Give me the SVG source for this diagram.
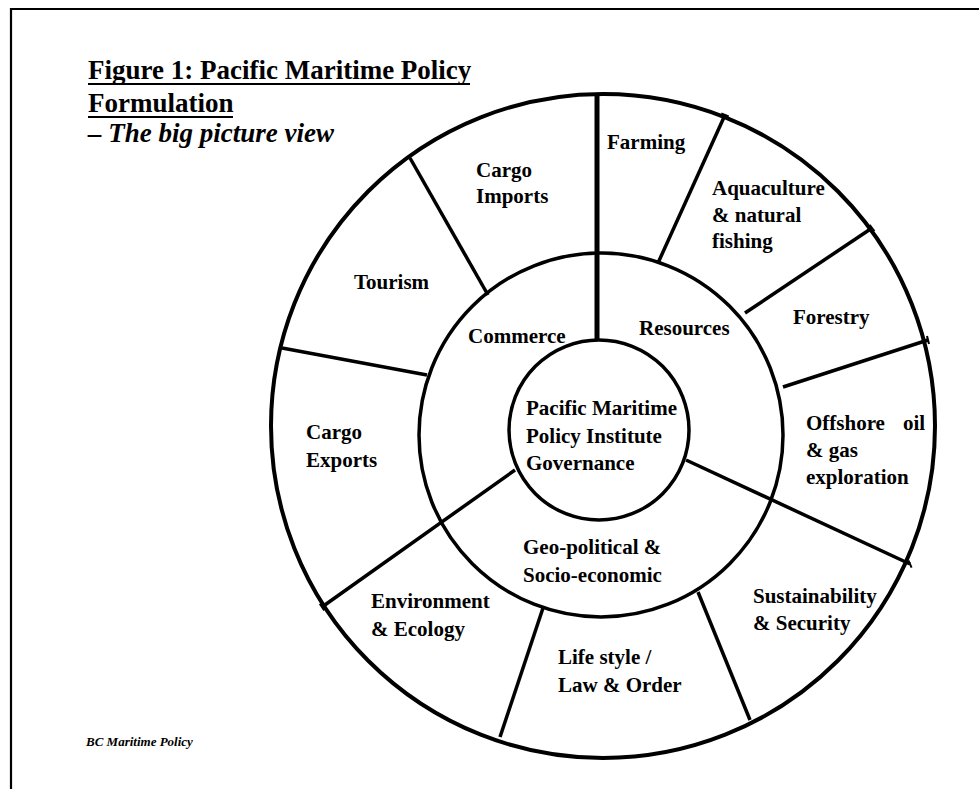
<svg xmlns="http://www.w3.org/2000/svg" width="979" height="789" viewBox="0 0 979 789">
  <style>
    .ring { fill: none; stroke: #000; stroke-width: 3.5; }
    .outer { stroke-width: 4; }
    .div { stroke: #000; stroke-width: 3.5; stroke-linecap: butt; }
    .axis { stroke-width: 5; }
    .tick { stroke: #000; stroke-width: 2; }
    .lbl { font-family: "Liberation Serif", "Times New Roman", serif; font-weight: bold; font-size: 21px; fill: #000; }
    .title { font-family: "Liberation Serif", "Times New Roman", serif; font-weight: bold; font-size: 27px; fill: #000; }
    .sub { font-style: italic; }
    .foot { font-family: "Liberation Serif", "Times New Roman", serif; font-weight: bold; font-style: italic; font-size: 13px; fill: #000; }
  </style>

  <rect width="979" height="789" fill="#fff"/>

  <!-- page frame (top and left edges) -->
  <g id="frame">
    <line x1="10" y1="9" x2="979" y2="9" stroke="#000" stroke-width="2.2"/>
    <line x1="11" y1="8" x2="11" y2="789" stroke="#000" stroke-width="2.2"/>
  </g>

  <!-- heading -->
  <g id="heading">
    <text class="title" x="88" y="79">Figure 1: Pacific Maritime Policy</text>
    <line x1="88" y1="84" x2="470" y2="84" stroke="#000" stroke-width="2"/>
    <text class="title" x="88" y="112">Formulation</text>
    <line x1="88" y1="117" x2="233" y2="117" stroke="#000" stroke-width="2"/>
    <text class="title sub" x="88" y="142">– The big picture view</text>
  </g>

  <!-- concentric rings -->
  <g id="rings">
    <circle class="ring outer" cx="603" cy="426" r="332"/>
    <circle class="ring" cx="601" cy="435" r="182"/>
    <circle class="ring" cx="599" cy="430" r="90"/>
  </g>

  <!-- sector dividers -->
  <g id="connectors">
    <line class="div axis" x1="597" y1="94" x2="597" y2="340"/>
    <line class="div" x1="410" y1="158" x2="488" y2="295"/>
    <line class="div" x1="282" y1="348" x2="427" y2="375"/>
    <line class="div" x1="725" y1="115" x2="658" y2="263"/>
    <line class="div" x1="872" y1="228" x2="745" y2="313"/>
    <line class="div" x1="928" y1="340" x2="783" y2="387"/>
    <line class="div" x1="686" y1="460" x2="910" y2="564"/>
    <line class="div" x1="698" y1="592" x2="750" y2="720"/>
    <line class="div" x1="543" y1="608" x2="500" y2="737"/>
    <line class="div" x1="515" y1="470" x2="322" y2="607"/>
    <line class="tick" x1="721.3" y1="113.5" x2="728.7" y2="116.5"/>
    <line class="tick" x1="869.6" y1="224.8" x2="874.4" y2="231.2"/>
    <line class="tick" x1="927" y1="336" x2="929" y2="344"/>
    <line class="tick" x1="319.8" y1="603.6" x2="324.2" y2="610.4"/>
    <line class="tick" x1="908.4" y1="560.4" x2="911.6" y2="567.6"/>
  </g>

  <!-- centre -->
  <g id="governance">
    <text class="lbl" x="526" y="415">Pacific Maritime</text>
    <text class="lbl" x="526" y="443">Policy Institute</text>
    <text class="lbl" x="526" y="470">Governance</text>
  </g>

  <!-- middle ring -->
  <g id="commerce"><text class="lbl" x="468" y="343">Commerce</text></g>
  <g id="resources"><text class="lbl" x="639" y="335">Resources</text></g>
  <g id="geopolitical">
    <text class="lbl" x="523" y="554">Geo-political &amp;</text>
    <text class="lbl" x="523" y="582">Socio-economic</text>
  </g>

  <!-- outer ring -->
  <g id="farming"><text class="lbl" x="607" y="149">Farming</text></g>
  <g id="aquaculture">
    <text class="lbl" x="712" y="195">Aquaculture</text>
    <text class="lbl" x="712" y="222">&amp; natural</text>
    <text class="lbl" x="712" y="248">fishing</text>
  </g>
  <g id="forestry"><text class="lbl" x="793" y="324">Forestry</text></g>
  <g id="offshore">
    <text class="lbl" x="806" y="430"><tspan>Offshore </tspan><tspan x="903">oil</tspan></text>
    <text class="lbl" x="806" y="457">&amp; gas</text>
    <text class="lbl" x="806" y="484">exploration</text>
  </g>
  <g id="sustainability">
    <text class="lbl" x="753" y="603">Sustainability</text>
    <text class="lbl" x="753" y="630">&amp; Security</text>
  </g>
  <g id="lifestyle">
    <text class="lbl" x="558" y="664">Life style /</text>
    <text class="lbl" x="558" y="692">Law &amp; Order</text>
  </g>
  <g id="environment">
    <text class="lbl" x="371" y="608">Environment</text>
    <text class="lbl" x="371" y="636">&amp; Ecology</text>
  </g>
  <g id="cargo-exports">
    <text class="lbl" x="306" y="439">Cargo</text>
    <text class="lbl" x="306" y="467">Exports</text>
  </g>
  <g id="tourism"><text class="lbl" x="354" y="289">Tourism</text></g>
  <g id="cargo-imports">
    <text class="lbl" x="476" y="177">Cargo</text>
    <text class="lbl" x="476" y="203">Imports</text>
  </g>

  <!-- footer -->
  <g id="footer"><text class="foot" x="86" y="746">BC Maritime Policy</text></g>
</svg>
